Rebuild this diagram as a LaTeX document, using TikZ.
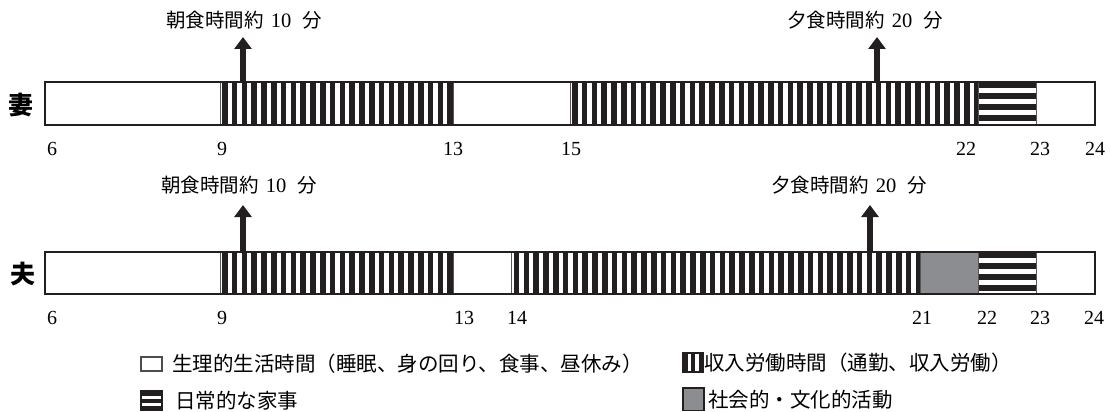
\documentclass[tikz,border=0pt]{standalone}
\usepackage{fontspec}
\setmainfont{Liberation Serif}
\newfontfamily\jp{Noto Sans CJK JP}
\usetikzlibrary{arrows.meta}
\definecolor{ink}{HTML}{231F20}
\definecolor{actgray}{HTML}{8C8D90}
% vertical stripes: x1 x2 y1 y2
\newcommand\vstripes[4]{%
  \begin{scope}
    \clip (#1,#3) rectangle (#2,#4);
    \foreach \k in {0,...,44} \fill[ink] ({#1+2+9.8*\k},#3) rectangle ({#1+7.6+9.8*\k},#4);
  \end{scope}}
% horizontal stripes: x1 x2 y1 y2
\newcommand\hstripes[4]{%
  \begin{scope}
    \clip (#1,#3) rectangle (#2,#4);
    \fill[ink] (#1,#3) rectangle (#2,#4);
    \foreach \k in {0,...,3} \fill[white] (#1,{#3+6+11*\k}) rectangle (#2,{#3+10.5+11*\k});
  \end{scope}}
\newcommand\num[1]{{\rmfamily\fontsize{20.5}{22}\selectfont #1}}
\begin{document}
\begin{tikzpicture}[x=1pt,y=-1pt,
  barframe/.style={draw=ink, line width=2.4pt, inner sep=0pt, outer sep=0pt, minimum width=1050pt, minimum height=43pt},
  divider/.style={draw=ink!75, line width=0.8pt},
  meal/.style={font=\jp\fontsize{19.5}{21}\selectfont, inner sep=0pt},
  tick/.style={font=\fontsize{20}{22}\selectfont, inner sep=0pt},
  who/.style={font=\jp\bfseries\fontsize{25}{27}\selectfont, inner sep=0pt},
  legtext/.style={font=\jp\fontsize{20.5}{22}\selectfont, anchor=west, inner sep=0pt},
  legbox/.style={draw=ink, line width=1.2pt},
  mealarrow/.style={draw=ink, line width=6pt, -{Triangle[width=17pt,length=12pt]}}
]
\useasboundingbox (0,0) rectangle (1111,412);
\fill[white] (0,0) rectangle (1111,412);

% ---------------- wife bar ----------------
\vstripes{220}{453.3}{82}{125}
\vstripes{570}{978.3}{82}{125}
\hstripes{978.3}{1036.7}{82}{125}
\foreach \xx in {220,453.3,570,978.3,1036.7} \draw[divider] (\xx,82) -- (\xx,125);
\node[barframe] (wbar) at (570,103.5) {};
\node[who] (wife) at (21,105) {妻};

% ---------------- husband bar ----------------
\vstripes{220}{453.3}{252}{294}
\vstripes{511.7}{920}{252}{294}
\fill[actgray] (920,252) rectangle (978.3,294);
\hstripes{978.3}{1036.7}{252}{294}
\foreach \xx in {220,453.3,511.7,920,978.3,1036.7} \draw[divider] (\xx,252) -- (\xx,294);
\node[barframe, minimum height=42pt] (hbar) at (570,273) {};
\node[who] (husband) at (23,274) {夫};

% ---------------- tick labels ----------------
\node[tick] (w6)  at (52,149) {6};
\node[tick] (w9)  at (222,149) {9};
\node[tick] (w13) at (453,149) {13};
\node[tick] (w15) at (571,149) {15};
\node[tick] (w22) at (966,149) {22};
\node[tick] (w23) at (1040,149) {23};
\node[tick] (w24) at (1095,149) {24};

\node[tick] (h6)  at (52,318) {6};
\node[tick] (h9)  at (222,318) {9};
\node[tick] (h13) at (464,318) {13};
\node[tick] (h14) at (517,318) {14};
\node[tick] (h21) at (922,318) {21};
\node[tick] (h22) at (987,318) {22};
\node[tick] (h23) at (1040,318) {23};
\node[tick] (h24) at (1094,318) {24};

% ---------------- meal labels and arrows ----------------
\node[meal] (wb) at (244,20) {朝食時間約\hspace{7pt}\num{10}\hspace{11pt}分};
\node[meal] (wd) at (865,20) {夕食時間約\hspace{7pt}\num{20}\hspace{11pt}分};
\node[meal] (hb) at (239,185) {朝食時間約\hspace{7pt}\num{10}\hspace{11pt}分};
\node[meal] (hd) at (849,185) {夕食時間約\hspace{7pt}\num{20}\hspace{11pt}分};

\coordinate (wbS) at (243,81);   \coordinate (wbT) at (243,37);
\coordinate (wdS) at (877,81);   \coordinate (wdT) at (877,37);
\coordinate (hbS) at (243,251);  \coordinate (hbT) at (243,205);
\coordinate (hdS) at (870,251);  \coordinate (hdT) at (870,205);
\draw[mealarrow] (wbS) -- (wbT);
\draw[mealarrow] (wdS) -- (wdT);
\draw[mealarrow] (hbS) -- (hbT);
\draw[mealarrow] (hdS) -- (hdT);

% ---------------- legend ----------------
\draw[legbox, draw=ink!80] (141,357) rectangle (162,371);
\node[legtext] (l1) at (172,364) {生理的生活時間（睡眠、身の回り、食事、昼休み）};

\fill[ink] (683,353) rectangle (703,372);
\fill[white] (687.5,353) rectangle (691,372);
\fill[white] (695,353) rectangle (698.5,372);
\draw[legbox] (683,353) rectangle (703,372);
\node[legtext] (l2) at (704,363) {収入労働時間（通勤、収入労働）};

\fill[ink] (141,391) rectangle (162,410.5);
\fill[white] (141,396) rectangle (162,399);
\fill[white] (141,403) rectangle (162,406);
\draw[legbox] (141,391) rectangle (162,410.5);
\node[legtext] (l3) at (175,401) {日常的な家事};

\fill[actgray] (683,388) rectangle (704,410.5);
\draw[legbox] (683,388) rectangle (704,410.5);
\node[legtext] (l4) at (708,400) {社会的・文化的活動};
\end{tikzpicture}
\end{document}
